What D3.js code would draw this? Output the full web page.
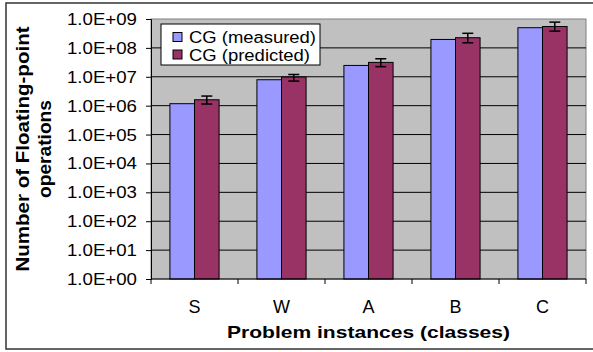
<!DOCTYPE html>
<html>
<head>
<meta charset="utf-8">
<script src="https://cdn.jsdelivr.net/npm/d3@7"></script>
<style>
  body { margin: 0; background: white; }
  text { font-family: Arial, "Liberation Sans", sans-serif; fill: #000; }
</style>
</head>
<body>
<div id="chart"></div>
<script>
// data
const classes = ["S", "W", "A", "B", "C"];
const seriesNames = ["CG (measured)", "CG (predicted)"];
const measured = [1.17e6, 7.9e6, 2.47e7, 1.96e8, 5.0e8];
const predicted = [1.6e6, 9.8e6, 3.15e7, 2.25e8, 5.5e8];
const predLow = [1.14e6, 7.1e6, 2.24e7, 1.5e8, 3.8e8];
const predHigh = [2.15e6, 1.2e7, 4.2e7, 3.2e8, 7.8e8];
const yTicks = [1e0, 1e1, 1e2, 1e3, 1e4, 1e5, 1e6, 1e7, 1e8, 1e9];
const colors = ["#9999ff", "#993366"];

let svg = d3.select("#chart").append("svg")
  .attr("width", 593)
  .attr("height", 352);

svg.append("rect")
  .attr("width", "100%").attr("height", "100%")
  .attr("fill", "white");

// outer frame (right side runs off the picture)
svg.append("rect")
  .attr("x", 6).attr("y", 3)
  .attr("width", 600).attr("height", 346)
  .attr("fill", "none").attr("stroke", "#333").attr("stroke-width", 1.5);

let plot = { left: 151, right: 586, top: 19, bottom: 279 };

let x = d3.scaleBand().domain(classes).range([plot.left, plot.right]).padding(0);
let xs = d3.scaleBand().domain([0, 1]).range([0, x.bandwidth()])
  .paddingInner(0).paddingOuter(0.77);
let y = d3.scaleLog().domain([1, 1e9]).range([plot.bottom, plot.top]);

// plot background
svg.append("rect")
  .attr("x", plot.left).attr("y", plot.top)
  .attr("width", plot.right - plot.left).attr("height", plot.bottom - plot.top)
  .attr("fill", "#c0c0c0").attr("stroke", "#808080").attr("stroke-width", 1);

// gridlines
svg.append("g").selectAll("line")
  .data(yTicks.slice(1, 9))
  .enter().append("line")
    .attr("x1", plot.left).attr("x2", plot.right)
    .attr("y1", d => y(d)).attr("y2", d => y(d))
    .attr("stroke", "#000").attr("stroke-width", 1);

// bars
let series = [measured, predicted];
let groups = svg.append("g").selectAll("g")
  .data(classes)
  .enter().append("g")
    .attr("transform", d => "translate(" + x(d) + ",0)");

groups.selectAll("rect")
  .data((d, i) => series.map((s, j) => ({ j: j, v: s[i] })))
  .enter().append("rect")
    .attr("x", d => xs(d.j))
    .attr("y", d => y(d.v))
    .attr("width", xs.bandwidth())
    .attr("height", d => plot.bottom - y(d.v))
    .attr("fill", d => colors[d.j])
    .attr("stroke", "#000").attr("stroke-width", 1);

// error bars on predicted
let err = groups.append("g")
  .attr("stroke", "#000").attr("stroke-width", 1.5);
let cx = xs(1) + xs.bandwidth() / 2;
err.append("line")
  .attr("x1", cx).attr("x2", cx)
  .attr("y1", (d, i) => y(predLow[i])).attr("y2", (d, i) => y(predHigh[i]));
err.append("line")
  .attr("x1", cx - 5.5).attr("x2", cx + 5.5)
  .attr("y1", (d, i) => y(predLow[i])).attr("y2", (d, i) => y(predLow[i]));
err.append("line")
  .attr("x1", cx - 5.5).attr("x2", cx + 5.5)
  .attr("y1", (d, i) => y(predHigh[i])).attr("y2", (d, i) => y(predHigh[i]));

// y axis
let fmt = d => "1.0E+" + d3.format("02d")(Math.round(Math.log10(d)));
let yAxis = svg.append("g")
  .attr("transform", "translate(" + plot.left + ",0)")
  .call(d3.axisLeft(y).tickValues(yTicks).tickFormat(fmt).tickSize(5).tickPadding(9));
yAxis.select(".domain").attr("stroke", "#000");
yAxis.selectAll(".tick text")
  .attr("font-size", 17)
  .attr("textLength", 70).attr("lengthAdjust", "spacingAndGlyphs");

// x axis
let xAxis = svg.append("g")
  .attr("transform", "translate(0," + plot.bottom + ")");
xAxis.append("line")
  .attr("x1", plot.left).attr("x2", plot.right)
  .attr("stroke", "#000");
xAxis.selectAll(".xt")
  .data(classes.concat(["end"]))
  .enter().append("line")
    .attr("x1", (d, i) => i < classes.length ? x(d) : plot.right)
    .attr("x2", (d, i) => i < classes.length ? x(d) : plot.right)
    .attr("y1", 0).attr("y2", 5)
    .attr("stroke", "#000");
xAxis.selectAll("text")
  .data(classes)
  .enter().append("text")
    .attr("x", d => x(d) + x.bandwidth() / 2)
    .attr("y", 34)
    .attr("text-anchor", "middle")
    .attr("font-size", 18)
    .text(d => d);

// axis titles
svg.append("text")
  .attr("x", (plot.left + plot.right) / 2)
  .attr("y", 338)
  .attr("text-anchor", "middle")
  .attr("font-size", 17).attr("font-weight", "bold")
  .attr("textLength", 283).attr("lengthAdjust", "spacingAndGlyphs")
  .text("Problem instances (classes)");

let ytitle = svg.append("text")
  .attr("transform", "translate(0," + (plot.top + plot.bottom) / 2 + ")rotate(-90)")
  .attr("text-anchor", "middle")
  .attr("font-size", 18).attr("font-weight", "bold");
ytitle.append("tspan").attr("x", 0).attr("y", 29)
  .attr("textLength", 245).attr("lengthAdjust", "spacingAndGlyphs")
  .text("Number of Floating-point");
ytitle.append("tspan").attr("x", 0).attr("y", 51)
  .attr("textLength", 98).attr("lengthAdjust", "spacingAndGlyphs")
  .text("operations");

// legend
let legend = svg.append("g");
legend.append("rect")
  .attr("x", 161).attr("y", 24).attr("width", 159).attr("height", 41)
  .attr("fill", "white").attr("stroke", "#000");
let legendLen = [127, 121];
let items = legend.selectAll("g")
  .data(seriesNames)
  .enter().append("g")
    .attr("transform", (d, i) => "translate(173," + (32.5 + i * 17.5) + ")");
items.append("rect")
  .attr("width", 9).attr("height", 9)
  .attr("fill", (d, i) => colors[i]).attr("stroke", "#000");
items.append("text")
  .attr("x", 16).attr("y", 10.5)
  .attr("font-size", 16)
  .attr("textLength", (d, i) => legendLen[i]).attr("lengthAdjust", "spacingAndGlyphs")
  .text(d => d);
</script>
</body>
</html>
